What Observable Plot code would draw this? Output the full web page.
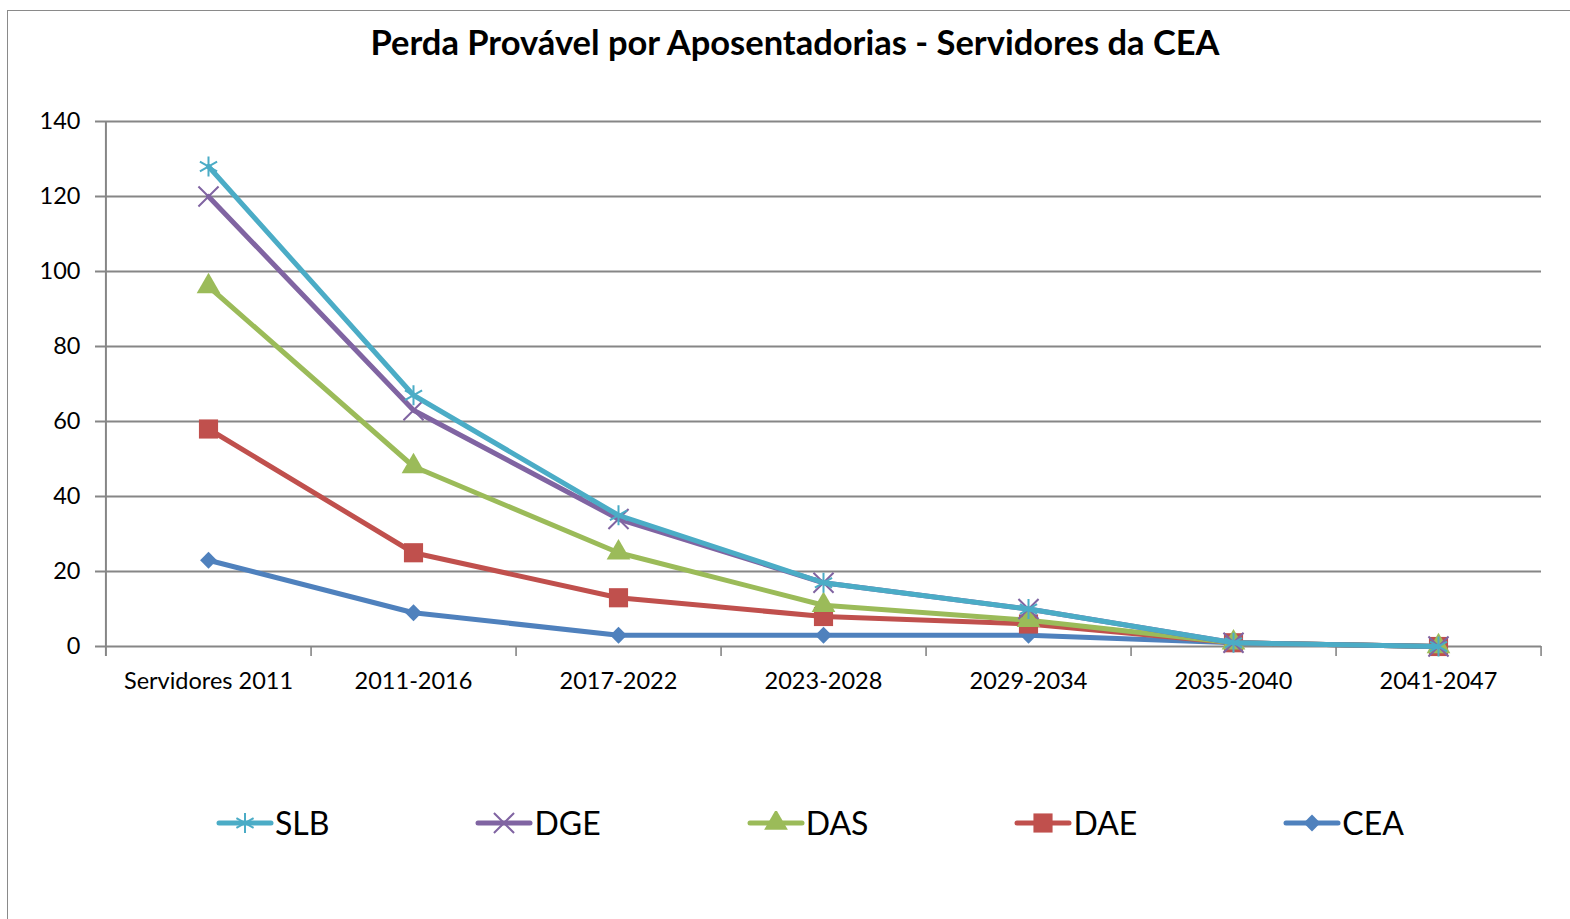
<!DOCTYPE html>
<html>
<head>
<meta charset="utf-8">
<script src="https://cdn.jsdelivr.net/npm/d3@7"></script>
<script src="https://cdn.jsdelivr.net/npm/@observablehq/plot@0.6"></script>
<style>
  html, body { margin: 0; padding: 0; background: #fff; }
  body { font-family: Lato, "Open Sans", sans-serif; }
  #wrap { position: relative; width: 1570px; height: 919px; overflow: hidden; }
  #frame { position: absolute; left: 7px; top: 10px; width: 1580px; height: 1000px; border-left: 1.5px solid #8a8a8a; border-top: 1.5px solid #8a8a8a; }
  #title { position: absolute; left: 0; top: 21px; width: 1590px; text-align: center; font-weight: bold; font-size: 34.5px; color: #000; }
  #chart { position: absolute; left: 0; top: 0; }
  #legend { position: absolute; top: 803px; left: 216px; display: flex; gap: 146px; }
  .item { display: flex; align-items: center; font-size: 32px; color: #000; }
  .item svg { margin-right: 1px; }
</style>
</head>
<body>
<div id="wrap">
  <div id="frame"></div>
  <div id="title">Perda Provável por Aposentadorias - Servidores da CEA</div>
  <div id="chart"></div>
  <div id="legend"></div>
</div>
<script>
const categories = ["Servidores 2011", "2011-2016", "2017-2022", "2023-2028", "2029-2034", "2035-2040", "2041-2047"];
const seriesNames = ["SLB", "DGE", "DAS", "DAE", "CEA"];
const SLB = [128, 67, 35, 17, 10, 1, 0];
const DGE = [120, 63, 34, 17, 10, 1, 0];
const DAS = [96, 48, 25, 11, 7, 1, 0];
const DAE = [58, 25, 13, 8, 6, 1, 0];
const CEA = [23, 9, 3, 3, 3, 1, 0];
const yTicks = [0, 20, 40, 60, 80, 100, 120, 140];

const seriesValues = {SLB, DGE, DAS, DAE, CEA};
const colors = {SLB: "#4BACC6", DGE: "#8064A2", DAS: "#9BBB59", DAE: "#C0504D", CEA: "#4F81BD"};
const symbols = {SLB: "asterisk", DGE: "times", DAS: "triangle", DAE: "square", CEA: "diamond2"};
const radii = {SLB: 9.4, DGE: 9.2, DAS: 8.8, DAE: 10.8, CEA: 7.6};
const strokeSym = {SLB: true, DGE: true};

const W = 1570, H = 760, mL = 105, mR = 29, mT = 121, mB = 114;
const step = (W - mL - mR) / categories.length;
const drawOrder = ["CEA", "DAE", "DAS", "DGE", "SLB"];

const marks = [
  Plot.ruleY(yTicks, {y: d => d, stroke: "#868686", strokeWidth: 2, insetLeft: -10}),
  Plot.ruleX([categories[0]], {x: d => d, y1: 140, y2: 0, dx: -step / 2, stroke: "#868686", strokeWidth: 2, insetBottom: -10}),
  Plot.ruleX(categories, {x: d => d, y1: 0, y2: 0, dx: step / 2, stroke: "#868686", strokeWidth: 1.6, insetBottom: -10}),
  Plot.axisY(yTicks, {tickSize: 0, tickPadding: 25, fontSize: 23.5, label: null, tickFormat: d => d}),
  Plot.axisX(categories, {tickSize: 0, tickPadding: 26, fontSize: 23.5, label: null})
];
for (const s of drawOrder) {
  const data = categories.map((c, i) => ({c, v: seriesValues[s][i]}));
  marks.push(Plot.line(data, {x: "c", y: "v", stroke: colors[s], strokeWidth: 5, strokeLinejoin: "round", strokeLinecap: "round"}));
  marks.push(Plot.dot(data, strokeSym[s]
    ? {x: "c", y: "v", symbol: symbols[s], r: radii[s], stroke: colors[s], strokeWidth: 2, fill: "none"}
    : {x: "c", y: "v", symbol: symbols[s], r: radii[s], fill: colors[s], stroke: "none"}));
}

const chart = Plot.plot({
  width: W, height: H,
  marginLeft: mL, marginRight: mR, marginTop: mT, marginBottom: mB,
  style: {fontFamily: "Lato, 'Open Sans', sans-serif", color: "#000", background: "transparent"},
  x: {type: "point", domain: categories, padding: 0.5, axis: null},
  y: {domain: [0, 140], axis: null},
  marks
});
document.getElementById("chart").appendChild(chart);

// legend
const legend = d3.select("#legend");
for (const s of seriesNames) {
  const item = legend.append("div").attr("class", "item");
  const sv = item.append("svg").attr("width", 58).attr("height", 24);
  sv.append("line").attr("x1", 3).attr("x2", 55).attr("y1", 12).attr("y2", 12)
    .attr("stroke", colors[s]).attr("stroke-width", 5).attr("stroke-linecap", "round");
  const symType = {asterisk: d3.symbolAsterisk, times: d3.symbolTimes, triangle: d3.symbolTriangle, square: d3.symbolSquare, diamond2: d3.symbolDiamond2}[symbols[s]];
  const p = sv.append("path").attr("transform", "translate(29,12)")
    .attr("d", d3.symbol(symType, Math.PI * radii[s] * radii[s])());
  if (strokeSym[s]) p.attr("fill", "none").attr("stroke", colors[s]).attr("stroke-width", 2);
  else p.attr("fill", colors[s]);
  item.append("span").text(s);
}
</script>
</body>
</html>
